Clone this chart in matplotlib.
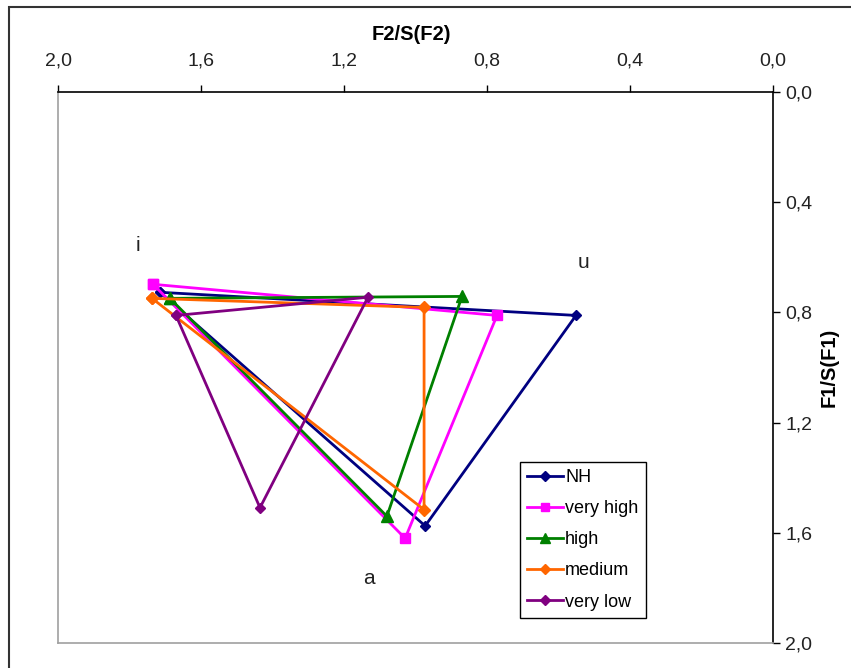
import matplotlib
matplotlib.use("Agg")
import matplotlib.pyplot as plt
from matplotlib.patches import Rectangle

plt.rcParams['font.family'] = ['Liberation Sans', 'DejaVu Sans']

series = ["NH", "very high", "high", "medium", "very low"]
vowels = ["i", "u", "a", "i"]
# F2/S(F2) for i, u, a (closing back to i)
f2 = {
    "NH":        [1.715, 0.551, 0.973, 1.715],
    "very high": [1.734, 0.772, 1.029, 1.734],
    "high":      [1.687, 0.870, 1.080, 1.687],
    "medium":    [1.737, 0.976, 0.976, 1.737],
    "very low":  [1.670, 1.133, 1.435, 1.670],
}
# F1/S(F1)
f1 = {
    "NH":        [0.727, 0.811, 1.575, 0.727],
    "very high": [0.698, 0.811, 1.620, 0.698],
    "high":      [0.749, 0.742, 1.540, 0.749],
    "medium":    [0.749, 0.782, 1.516, 0.749],
    "very low":  [0.811, 0.745, 1.509, 0.811],
}
colors = {"NH": "#000080", "very high": "#ff00ff", "high": "#008000",
          "medium": "#ff6600", "very low": "#800080"}
markers = {"NH": "D", "very high": "s", "high": "^", "medium": "D", "very low": "D"}
msizes = {"NH": 5.5, "very high": 7.5, "high": 8.5, "medium": 6.5, "very low": 5.5}

vowel_labels = ["i", "u", "a"]
vowel_label_x = [1.776, 0.531, 1.131]
vowel_label_y = [0.556, 0.618, 1.767]

xticks = [2.0, 1.6, 1.2, 0.8, 0.4, 0.0]
yticks = [0.0, 0.4, 0.8, 1.2, 1.6, 2.0]

W, H = 851, 668
fig = plt.figure(figsize=(W / 100, H / 100), dpi=100)
fig.patches.append(Rectangle((9 / W, -0.1), 1.2, 1 - 7 / H + 0.1, transform=fig.transFigure,
                             fill=False, edgecolor="#333333", linewidth=1.5))

ax = fig.add_axes([58 / W, 1 - 643 / H, 715 / W, (643 - 92) / H])
for s in series:
    ax.plot(f2[s], f1[s], color=colors[s], marker=markers[s], markersize=msizes[s],
            linewidth=2.0, label=s, clip_on=False)

for t, x, y in zip(vowel_labels, vowel_label_x, vowel_label_y):
    ax.text(x, y, t, fontsize=15, ha="center", va="center", color="#222222")

ax.set_xlim(2.0, 0.0)
ax.set_ylim(2.0, 0.0)
ax.xaxis.tick_top()
ax.yaxis.tick_right()
ax.set_xticks(xticks)
ax.set_yticks(yticks)
ax.set_xticklabels([f"{v:.1f}".replace(".", ",") for v in xticks], fontsize=14)
ax.set_yticklabels([f"{v:.1f}".replace(".", ",") for v in yticks], fontsize=14)
ax.tick_params(axis="both", direction="out", length=5, width=1, colors="#000000",
               labelcolor="#222222")
ax.tick_params(axis="x", pad=11)
ax.tick_params(axis="y", pad=4)
ax.spines["top"].set_color("#000000")
ax.spines["right"].set_color("#000000")
ax.spines["left"].set_color("#a0a0a0")
ax.spines["bottom"].set_color("#a0a0a0")
for sp in ax.spines.values():
    sp.set_linewidth(1.2)

fig.text(411 / W, 1 - 35 / H, "F2/S(F2)", fontsize=14.5, fontweight="bold", ha="center", va="center")
fig.text(829 / W, 1 - 367 / H, "F1/S(F1)", fontsize=14.5, fontweight="bold", ha="center", va="center",
         rotation=90)

leg = ax.legend(loc="upper left", bbox_to_anchor=(520 / W, 1 - 462 / H), bbox_transform=fig.transFigure,
                fontsize=13, frameon=True, fancybox=False, edgecolor="#000000", framealpha=1,
                handlelength=2.0, handletextpad=0.1, borderpad=0.4, labelspacing=0.78,
                borderaxespad=0, markerscale=0.85)
leg.get_frame().set_linewidth(1.0)

fig.savefig("out.png", dpi=100)
